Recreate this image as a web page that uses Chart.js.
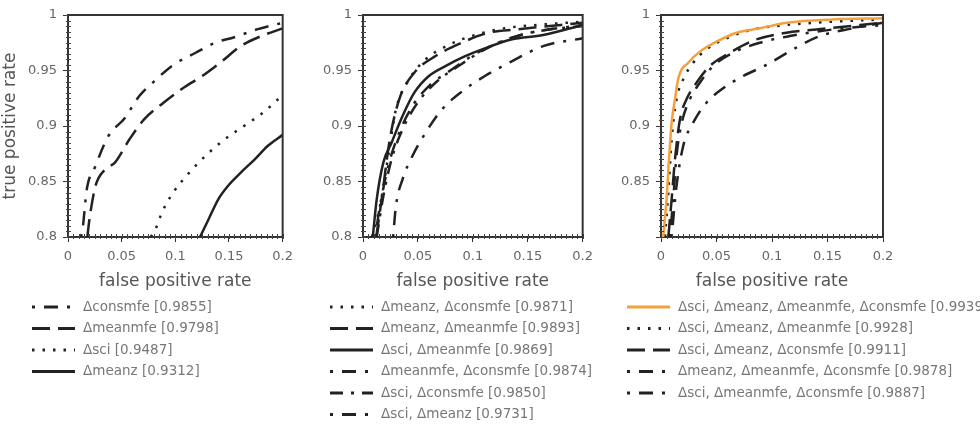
<!DOCTYPE html>
<html>
<head>
<meta charset="utf-8">
<script src="https://cdn.jsdelivr.net/npm/chart.js@4"></script>
<style>
  body { margin: 0; background: #fff; width: 980px; height: 431px; overflow: hidden; position: relative; }
  canvas { position: absolute; top: 0; }
</style>
</head>
<body>
<canvas id="c1" width="300" height="431" style="left:0"></canvas>
<canvas id="c2" width="300" height="431" style="left:300px"></canvas>
<canvas id="c3" width="380" height="431" style="left:600px"></canvas>
<script>
// tick labels
const xTickLabels = ['0', '0.05', '0.1', '0.15', '0.2'];
const yTickLabels = ['0.8', '0.85', '0.9', '0.95', '1'];
const minorStep = 0.005;

// panel 1: single features, [fpr, tpr]
const p1Names = ['Δconsmfe', 'Δmeanmfe', 'Δsci', 'Δmeanz'];
const p1Auc = [0.9855, 0.9798, 0.9487, 0.9312];
const p1Consmfe = [[0.012,0.8],[0.0136,0.807],[0.016,0.83],[0.017,0.84],[0.0256,0.864],[0.0377,0.891],[0.0528,0.907],[0.0664,0.927],[0.08,0.94],[0.098,0.955],[0.119,0.966],[0.137,0.975],[0.155,0.98],[0.176,0.987],[0.2,0.993]];
const p1Meanmfe = [[0.018,0.8],[0.02,0.816],[0.0256,0.846],[0.0347,0.861],[0.0437,0.867],[0.0573,0.888],[0.0709,0.906],[0.089,0.921],[0.107,0.934],[0.125,0.945],[0.143,0.958],[0.161,0.972],[0.18,0.981],[0.2,0.988]];
const p1Sci = [[0.077,0.8],[0.0815,0.807],[0.0875,0.822],[0.098,0.84],[0.113,0.858],[0.128,0.873],[0.146,0.888],[0.164,0.9],[0.183,0.913],[0.2,0.928]];
const p1Meanz = [[0.123,0.8],[0.131,0.816],[0.14,0.834],[0.149,0.846],[0.161,0.858],[0.174,0.87],[0.186,0.882],[0.2,0.892]];

// panel 2: feature pairs
const p2Names = ['Δmeanz, Δconsmfe', 'Δmeanz, Δmeanmfe', 'Δsci, Δmeanmfe', 'Δmeanmfe, Δconsmfe', 'Δsci, Δconsmfe', 'Δsci, Δmeanz'];
const p2Auc = [0.9871, 0.9893, 0.9869, 0.9874, 0.9850, 0.9731];
const p2MeanzConsmfe = [[0.008,0.8],[0.0155,0.828],[0.023,0.873],[0.03,0.915],[0.042,0.942],[0.057,0.96],[0.078,0.973],[0.102,0.982],[0.129,0.988],[0.158,0.991],[0.2,0.994]];
const p2MeanzMeanmfe = [[0.012,0.8],[0.017,0.834],[0.0244,0.888],[0.033,0.924],[0.0467,0.948],[0.066,0.963],[0.09,0.975],[0.114,0.984],[0.14,0.987],[0.2,0.993]];
const p2SciMeanmfe = [[0.0089,0.8],[0.0125,0.834],[0.0185,0.867],[0.026,0.885],[0.036,0.909],[0.0467,0.93],[0.06,0.945],[0.075,0.954],[0.093,0.963],[0.111,0.97],[0.135,0.978],[0.164,0.982],[0.2,0.991]];
const p2MeanmfeConsmfe = [[0.011,0.8],[0.0155,0.828],[0.023,0.864],[0.033,0.894],[0.045,0.918],[0.06,0.936],[0.078,0.949],[0.099,0.963],[0.123,0.975],[0.152,0.984],[0.2,0.991]];
const p2SciConsmfe = [[0.0125,0.8],[0.018,0.834],[0.026,0.87],[0.036,0.897],[0.0497,0.921],[0.066,0.939],[0.087,0.954],[0.111,0.969],[0.14,0.981],[0.17,0.987],[0.2,0.99]];
const p2SciMeanz = [[0.0274,0.8],[0.03,0.828],[0.036,0.852],[0.045,0.873],[0.057,0.894],[0.072,0.915],[0.09,0.931],[0.111,0.945],[0.135,0.958],[0.164,0.972],[0.2,0.979]];

// panel 3: triples and all four
const p3Names = ['Δsci, Δmeanz, Δmeanmfe, Δconsmfe', 'Δsci, Δmeanz, Δmeanmfe', 'Δsci, Δmeanz, Δconsmfe', 'Δmeanz, Δmeanmfe, Δconsmfe', 'Δsci, Δmeanmfe, Δconsmfe'];
const p3Auc = [0.9939, 0.9928, 0.9911, 0.9878, 0.9887];
const p3All = [[0.002,0.8],[0.005,0.834],[0.0072,0.87],[0.0096,0.903],[0.0126,0.924],[0.0156,0.943],[0.0246,0.957],[0.035,0.967],[0.05,0.976],[0.068,0.984],[0.089,0.988],[0.113,0.993],[0.155,0.996],[0.2,0.997]];
const p3SciMeanzMeanmfe = [[0.0036,0.8],[0.0066,0.84],[0.0096,0.888],[0.014,0.924],[0.02,0.942],[0.029,0.957],[0.041,0.969],[0.059,0.979],[0.083,0.987],[0.113,0.991],[0.155,0.994],[0.2,0.996]];
const p3SciMeanzConsmfe = [[0.0066,0.8],[0.0096,0.834],[0.0126,0.87],[0.0171,0.906],[0.023,0.924],[0.032,0.939],[0.044,0.954],[0.062,0.966],[0.086,0.978],[0.113,0.984],[0.14,0.987],[0.2,0.993]];
const p3MeanzMeanmfeConsmfe = [[0.008,0.8],[0.011,0.834],[0.014,0.873],[0.018,0.9],[0.026,0.924],[0.035,0.939],[0.047,0.954],[0.065,0.966],[0.089,0.975],[0.116,0.981],[0.155,0.987],[0.2,0.991]];
const p3SciMeanmfeConsmfe = [[0.0096,0.8],[0.014,0.846],[0.02,0.882],[0.029,0.903],[0.041,0.921],[0.056,0.934],[0.074,0.945],[0.095,0.955],[0.119,0.969],[0.143,0.981],[0.173,0.988],[0.2,0.993]];

const SOLID = [], DOT = [2.5, 8], DASH = [18, 8], DOTDASH = [3, 9, 14, 9], DASHDOT = [13, 8, 3, 8];
const INK = '#222', ORANGE = '#f5a03c';
const FONT = 'DejaVu Sans';

function makeSets(names, auc, curves, dashes, colors) {
  return curves.map((c, i) => ({
    label: names[i] + ' [' + auc[i].toFixed(4) + ']',
    data: c.map(p => ({ x: p[0], y: p[1] })),
    borderColor: colors ? colors[i] : INK,
    borderDash: dashes[i],
    borderWidth: 2.5,
    pointRadius: 0,
    fill: false,
    cubicInterpolationMode: 'monotone',
  }));
}

function tickText(labels, hide) {
  return function (v) {
    const lab = labels.find(l => Math.abs(parseFloat(l) - v) < 1e-6);
    if (!lab || lab === hide) return '';
    return lab;
  };
}

// minor ticks, frame on top/right, legend underneath
const frameLegend = {
  id: 'frameLegend',
  afterDraw(chart, args, o) {
    const { ctx, chartArea: a } = chart;
    const xs = chart.scales.x, ys = chart.scales.y;
    ctx.save();
    ctx.strokeStyle = '#444';
    ctx.lineWidth = 1;
    ctx.beginPath();
    for (let i = 0; xs.min + i * minorStep <= xs.max + 1e-9; i++) {
      const px = Math.round(xs.getPixelForValue(xs.min + i * minorStep)) + 0.5;
      ctx.moveTo(px, a.bottom - 3);
      ctx.lineTo(px, a.bottom + 2);
    }
    for (let i = 0; ys.min + i * minorStep <= ys.max + 1e-9; i++) {
      const py = Math.round(ys.getPixelForValue(ys.min + i * minorStep)) + 0.5;
      ctx.moveTo(a.left - 2, py);
      ctx.lineTo(a.left + 3, py);
    }
    ctx.stroke();

    ctx.strokeStyle = '#333';
    ctx.lineWidth = 2;
    ctx.beginPath();
    ctx.moveTo(a.left, a.top);
    ctx.lineTo(a.right, a.top);
    ctx.lineTo(a.right, a.bottom);
    ctx.stroke();

    chart.data.datasets.forEach((ds, i) => {
      const y = o.y + i * o.step;
      ctx.setLineDash(ds.borderDash);
      ctx.strokeStyle = ds.borderColor;
      ctx.lineWidth = 3;
      ctx.beginPath();
      ctx.moveTo(o.x, y);
      ctx.lineTo(o.x + 43, y);
      ctx.stroke();
      ctx.setLineDash([]);
      ctx.fillStyle = '#777';
      ctx.font = '13.5px "' + FONT + '"';
      ctx.textBaseline = 'middle';
      ctx.fillText(ds.label, o.x + 51, y);
    });
    ctx.restore();
  }
};

function panel(id, datasets, yWidth, padRight, yTitle, hideY, legendX) {
  return new Chart(document.getElementById(id), {
    type: 'line',
    data: { datasets },
    plugins: [frameLegend],
    options: {
      responsive: false,
      animation: false,
      events: [],
      layout: { padding: { left: 0, right: padRight, top: 15, bottom: 139 } },
      plugins: {
        legend: { display: false },
        tooltip: { enabled: false },
        frameLegend: { x: legendX, y: 307, step: 21.5 },
      },
      scales: {
        x: {
          type: 'linear', min: 0, max: 0.2,
          afterFit: s => { s.height = 55; },
          border: { color: '#333', width: 2 },
          grid: { drawOnChartArea: false, tickLength: 5, color: '#333' },
          ticks: { stepSize: 0.05, autoSkip: false, maxRotation: 0, padding: 7,
                   color: '#666', font: { family: FONT, size: 13 }, callback: tickText(xTickLabels) },
          title: { display: true, text: 'false positive rate', color: '#555', font: { family: FONT, size: 17 }, padding: 0 },
        },
        y: {
          type: 'linear', min: 0.8, max: 1,
          afterFit: s => { s.width = yWidth; },
          border: { color: '#333', width: 2 },
          grid: { drawOnChartArea: false, tickLength: 5, color: '#333' },
          ticks: { stepSize: 0.05, autoSkip: false, padding: 6,
                   color: '#666', font: { family: FONT, size: 13 }, callback: tickText(yTickLabels, hideY) },
          title: { display: yTitle, text: 'true positive rate', color: '#555', font: { family: FONT, size: 17 }, padding: 0 },
        },
      },
    },
  });
}

panel('c1', makeSets(p1Names, p1Auc, [p1Consmfe, p1Meanmfe, p1Sci, p1Meanz], [DOTDASH, DASH, DOT, SOLID]),
  68, 11, true, null, 32);
panel('c2', makeSets(p2Names, p2Auc, [p2MeanzConsmfe, p2MeanzMeanmfe, p2SciMeanmfe, p2MeanmfeConsmfe, p2SciConsmfe, p2SciMeanz],
  [DOT, DASH, SOLID, DOTDASH, DASHDOT, DOTDASH]), 63, 13, false, null, 30);
panel('c3', makeSets(p3Names, p3Auc, [p3All, p3SciMeanzMeanmfe, p3SciMeanzConsmfe, p3MeanzMeanmfeConsmfe, p3SciMeanmfeConsmfe],
  [SOLID, DOT, DASH, DOTDASH, DOTDASH], [ORANGE, INK, INK, INK, INK]), 61, 97, false, '0.8', 27);
</script>
</body>
</html>
